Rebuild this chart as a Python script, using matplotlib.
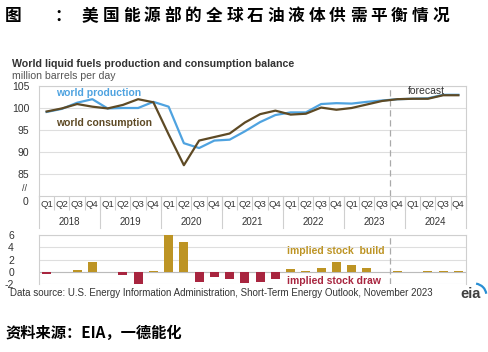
import matplotlib
matplotlib.use("Agg")
import matplotlib.pyplot as plt
import matplotlib.transforms as mtransforms
from matplotlib.patches import Arc
import numpy as np

plt.rcParams['font.family'] = ['Liberation Sans', 'Noto Sans CJK SC', 'DejaVu Sans']
plt.rcParams['axes.unicode_minus'] = False

# data (2018Q1 .. 2024Q4)
years = ['2018', '2019', '2020', '2021', '2022', '2023', '2024']
quarters = ['Q1', 'Q2', 'Q3', 'Q4'] * len(years)
production = [99.1, 99.8, 101.2, 102.0, 99.9, 100.0, 100.0, 101.4,
              100.3, 92.0, 90.9, 92.6, 92.8, 94.7, 96.8, 98.4,
              99.0, 99.0, 100.9, 101.1, 101.0, 101.4, 101.7, 102.0,
              102.1, 102.2, 103.0, 103.0]
consumption = [99.2, 99.9, 100.9, 100.3, 99.9, 100.7, 102.0, 101.3,
               94.0, 87.0, 92.6, 93.4, 94.2, 96.7, 98.6, 99.4,
               98.5, 98.7, 100.1, 99.6, 100.0, 100.8, 101.6, 102.0,
               102.1, 102.1, 102.9, 102.9]
stock_change = [-0.35, -0.1, 0.25, 1.65, -0.1, -0.6, -1.95, 0.15,
                6.0, 4.95, -1.7, -0.8, -1.25, -1.9, -1.75, -1.1,
                0.4, 0.2, 0.7, 1.6, 1.1, 0.6, -0.05, 0.1,
                -0.1, 0.1, 0.1, 0.15]
forecast_start = 23

W, H = 489, 352
BLUE = '#4fa3e0'
BROWN = '#5e4a25'
GOLD = '#bd9424'
RED = '#a8253f'
GRID = '#dedede'
TXT = '#333333'

fig = plt.figure(figsize=(W / 100, H / 100), dpi=100)


def fx(x):
    return x / W


def fy(y):
    return 1 - y / H


# chinese title, spaced out character by character
cjk = ['Noto Sans CJK SC']
fig.text(fx(5), fy(16), '图', fontsize=12, fontweight='bold', family=cjk, va='center')
fig.text(fx(54), fy(16), '：', fontsize=12, fontweight='bold', family=cjk, va='center')
title = '美国能源部的全球石油液体供需平衡情况'
for k, ch in enumerate(title):
    fig.text(fx(82 + 20.6 * k), fy(16), ch, fontsize=12, fontweight='bold',
             family=cjk, va='center')

fig.text(fx(12), fy(64), 'World liquid fuels production and consumption balance',
         fontsize=7.7, fontweight='bold', color=TXT, va='center')
fig.text(fx(12), fy(76), 'million barrels per day', fontsize=7.6, color='#555555', va='center')

n = len(quarters)
x = np.arange(n) + 0.5

# top panel
ax = fig.add_axes([fx(39), fy(196), fx(466) - fx(39), (196 - 86) / H])
ax.plot(x, production, color=BLUE, lw=1.6, zorder=3)
ax.plot(x, consumption, color=BROWN, lw=1.6, zorder=3)
ax.set_xlim(0, n)
ax.set_ylim(80, 105)
ax.set_yticks([85, 90, 95, 100, 105])
ax.tick_params(axis='y', length=0, labelsize=7.5, labelcolor=TXT, pad=7)
ax.grid(axis='y', color=GRID, lw=0.8)
ax.set_axisbelow(True)
for s in ax.spines.values():
    s.set_color('#cfcfcf')
    s.set_linewidth(0.8)
ax.set_xticks(x)
ax.set_xticklabels(quarters)
ax.set_xticks(np.arange(n + 1), minor=True)
ax.tick_params(axis='x', which='major', length=0, labelsize=6.8, labelcolor=TXT, pad=3)
ax.tick_params(axis='x', which='minor', length=10, color='#cfcfcf', width=0.8)
ax.axvline(forecast_start, color='#aaaaaa', lw=0.9, ls=(0, (5, 3)), zorder=2)

yt = mtransforms.blended_transform_factory(ax.transAxes, ax.transData)
ax.text(-0.028, 81.6, '//', transform=yt, ha='right', va='center',
        fontsize=6.5, color=TXT, clip_on=False)
ax.text(-0.025, 78.7, '0', transform=yt, ha='right', va='center',
        fontsize=7.5, color=TXT, clip_on=False)

bt = mtransforms.blended_transform_factory(ax.transData, ax.transAxes)
for b in range(0, n + 1, 4):
    ax.plot([b, b], [0, -0.29], color='#cfcfcf', lw=0.8, transform=bt, clip_on=False)
for k, yr in enumerate(years):
    ax.text(4 * k + 2, -0.235, yr, transform=bt, ha='center', va='center',
            fontsize=7, color=TXT)

ax.text(1.1, 103.4, 'world production', color=BLUE, fontsize=7.5,
        fontweight='bold', va='center')
ax.text(1.1, 96.6, 'world consumption', color=BROWN, fontsize=7.5,
        fontweight='bold', va='center')
ax.text(24.2, 103.9, 'forecast', color=TXT, fontsize=7.5, va='center')

# bottom panel
ax2 = fig.add_axes([fx(39), fy(284), fx(466) - fx(39), (284 - 235.3) / H])
colors = [GOLD if v >= 0 else RED for v in stock_change]
ax2.bar(x, stock_change, width=0.6, color=colors, zorder=3)
ax2.set_xlim(0, n)
ax2.set_ylim(-2, 6)
ax2.set_yticks([-2, 0, 2, 4, 6])
ax2.tick_params(axis='y', length=0, labelsize=7.5, labelcolor=TXT, pad=18)
ax2.set_xticks([])
ax2.grid(axis='y', color=GRID, lw=0.8)
ax2.set_axisbelow(True)
for s in ax2.spines.values():
    s.set_color('#cfcfcf')
    s.set_linewidth(0.8)
ax2.spines['bottom'].set_visible(False)
ax2.axhline(0, color='#bbbbbb', lw=0.8, zorder=2)
ax2.axvline(forecast_start, color='#aaaaaa', lw=0.9, ls=(0, (5, 3)), zorder=2)
ax2.text(16.26, 3.4, 'implied stock  build', color=GOLD, fontsize=7.5,
         fontweight='bold', va='center')
ax2.text(16.26, -1.5, 'implied stock draw', color=RED, fontsize=7.5,
         fontweight='bold', va='center')

fig.text(fx(10), fy(293), 'Data source: U.S. Energy Information Administration, '
         'Short-Term Energy Outlook, November 2023', fontsize=7, color=TXT, va='center')

# eia logo: text plus a small blue swoosh
fig.text(fx(460), fy(294), 'eia', fontsize=10.5, fontweight='bold', color='#3f3f3f', va='center')
lax = fig.add_axes([fx(470), fy(296), fx(18), 14 / H])
lax.set_xlim(0, 1)
lax.set_ylim(0, 1)
lax.axis('off')
lax.add_patch(Arc((0.2, 0.1), 1.4, 1.6, theta1=5, theta2=80, color='#2a8fd4', lw=1.6))

fig.text(fx(5), fy(333), '资料来源：EIA，一德能化', fontsize=11, fontweight='bold',
         family=cjk, va='center')

fig.savefig('out.png', dpi=100)
